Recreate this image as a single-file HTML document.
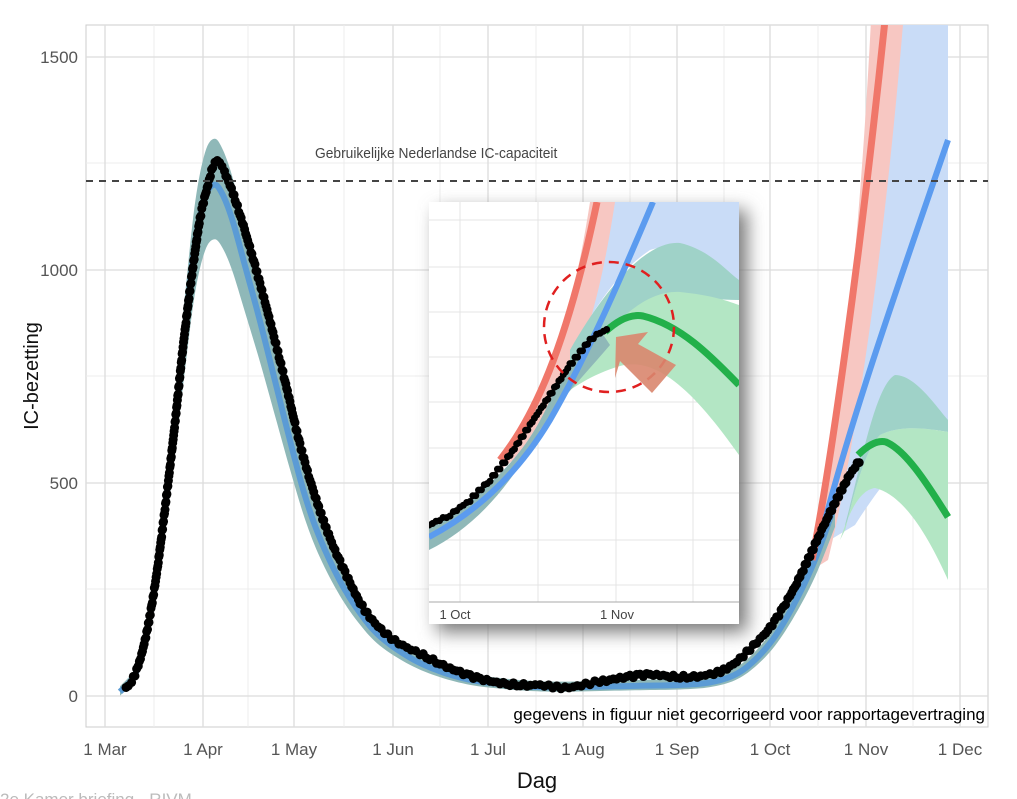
<!DOCTYPE html>
<html><head><meta charset="utf-8"><style>
html,body{margin:0;padding:0;background:#fff;width:1017px;height:799px;overflow:hidden}
svg{display:block}
text{font-family:"Liberation Sans",sans-serif}
</style></head><body>
<svg id="s" width="1017" height="799" viewBox="0 0 1017 799">
<defs>
<filter id="sh" x="-20%" y="-20%" width="140%" height="140%"><feGaussianBlur stdDeviation="9"/></filter>
<clipPath id="pc"><rect x="86" y="25" width="902" height="702"/></clipPath>
<clipPath id="ic"><rect x="429" y="202" width="310" height="400"/></clipPath>
</defs>
<rect x="86" y="25" width="902" height="702" fill="#fff" stroke="#ccc"/>
<g stroke="#ececec" stroke-width="1">
<line x1="86" x2="988" y1="163" y2="163"/><line x1="86" x2="988" y1="376" y2="376"/><line x1="86" x2="988" y1="589" y2="589"/>
<line x1="154" x2="154" y1="25" y2="727"/><line x1="248" x2="248" y1="25" y2="727"/><line x1="344" x2="344" y1="25" y2="727"/><line x1="440" x2="440" y1="25" y2="727"/><line x1="536" x2="536" y1="25" y2="727"/><line x1="630" x2="630" y1="25" y2="727"/><line x1="724" x2="724" y1="25" y2="727"/><line x1="818" x2="818" y1="25" y2="727"/><line x1="913" x2="913" y1="25" y2="727"/>
</g>
<g stroke="#dcdcdc" stroke-width="1.3">
<line x1="86" x2="988" y1="57" y2="57"/><line x1="86" x2="988" y1="270" y2="270"/><line x1="86" x2="988" y1="483" y2="483"/><line x1="86" x2="988" y1="696" y2="696"/>
<line x1="105" x2="105" y1="25" y2="727"/><line x1="203" x2="203" y1="25" y2="727"/><line x1="294" x2="294" y1="25" y2="727"/><line x1="393" x2="393" y1="25" y2="727"/><line x1="488" x2="488" y1="25" y2="727"/><line x1="583" x2="583" y1="25" y2="727"/><line x1="677" x2="677" y1="25" y2="727"/><line x1="770" x2="770" y1="25" y2="727"/><line x1="866" x2="866" y1="25" y2="727"/><line x1="960" x2="960" y1="25" y2="727"/>
</g>
<g clip-path="url(#pc)">
<path d="M830,540 C860,400 875,200 885,0 L948,0 L948,420 C920,440 890,470 855,525 Z" fill="#c9dcf7"/>
<path d="M812,570 C835,480 860,250 872,0 L905,0 C885,250 855,450 828,560 Z" fill="#f7c7c2"/>
<path d="M845,525 C860,470 875,385 895,375 C915,375 935,405 948,420 L948,432 C925,428 900,425 880,435 C865,450 855,490 845,530Z" fill="#9fd2c8"/>
<path d="M845,530 C855,490 865,450 880,435 C900,425 925,428 948,432 L948,580 C930,540 905,495 875,488 C860,490 850,510 840,540Z" fill="#b3e6c4"/>
<path id="band" fill="#8fb8b8"/>
<path id="mline" fill="none" stroke="#5b9bd5" stroke-width="6"/>
<path d="M812,560 C830,470 860,260 885,20" fill="none" stroke="#f0776a" stroke-width="7"/>
<path d="M820,540 C850,420 900,280 948,140" fill="none" stroke="#5b9bef" stroke-width="6"/>
<path d="M858,455 C868,445 878,440 886,442 C905,450 925,480 948,517" fill="none" stroke="#22b04a" stroke-width="7"/>
<g id="dots" fill="#000"></g>
</g>
<line x1="86" x2="988" y1="181" y2="181" stroke="#444" stroke-width="2" stroke-dasharray="7,6"/>
<text x="315" y="158" font-size="15" fill="#444" transform="translate(315,0) scale(0.92,1) translate(-315,0)">Gebruikelijke Nederlandse IC-capaciteit</text>
<g font-size="17" fill="#555" text-anchor="end">
<text x="78" y="63">1500</text><text x="78" y="276">1000</text><text x="78" y="489">500</text><text x="78" y="702">0</text>
</g>
<g font-size="17" fill="#555" text-anchor="middle">
<text x="105" y="755">1 Mar</text><text x="203" y="755">1 Apr</text><text x="294" y="755">1 May</text><text x="393" y="755">1 Jun</text><text x="488" y="755">1 Jul</text><text x="583" y="755">1 Aug</text><text x="677" y="755">1 Sep</text><text x="770" y="755">1 Oct</text><text x="866" y="755">1 Nov</text><text x="960" y="755">1 Dec</text>
</g>
<text x="537" y="788" font-size="22" text-anchor="middle" fill="#111">Dag</text>
<text transform="translate(38,376) rotate(-90)" font-size="20" text-anchor="middle" fill="#111">IC-bezetting</text>
<text x="985" y="720" font-size="17" text-anchor="end" fill="#000">gegevens in figuur niet gecorrigeerd voor rapportagevertraging</text>
<text x="0" y="805" font-size="17" fill="#bbb">2e Kamer briefing - RIVM</text>
<rect x="437" y="210" width="310" height="422" fill="#777" filter="url(#sh)"/>
<rect x="429" y="202" width="310" height="422" fill="#fff"/>
<g stroke="#e4e4e4">
<line x1="429" x2="739" y1="220" y2="220"/><line x1="429" x2="739" y1="267" y2="267"/><line x1="429" x2="739" y1="312" y2="312"/><line x1="429" x2="739" y1="357" y2="357"/><line x1="429" x2="739" y1="402" y2="402"/><line x1="429" x2="739" y1="448" y2="448"/><line x1="429" x2="739" y1="493" y2="493"/><line x1="429" x2="739" y1="540" y2="540"/><line x1="429" x2="739" y1="585" y2="585"/>
<line x1="460" x2="460" y1="202" y2="602"/><line x1="538" x2="538" y1="202" y2="602"/><line x1="616" x2="616" y1="202" y2="602"/><line x1="693" x2="693" y1="202" y2="602"/>
</g>
<g clip-path="url(#ic)">
<path d="M600,202 L739,202 L739,290 C700,260 680,240 650,250 C620,270 600,300 570,350 Z" fill="#c9dcf7"/>
<path d="M500,470 C540,420 570,330 590,202 L615,202 C600,300 580,370 540,440 Z" fill="#f7c7c2"/>
<path d="M570,350 C610,280 650,240 680,243 C710,250 725,270 739,280 L739,300 C710,300 690,295 660,300 C620,320 590,345 570,370 Z" fill="#9fd2c8"/>
<path d="M570,370 C610,330 640,290 680,292 C710,295 725,300 739,305 L739,455 C700,400 660,355 620,366 C600,372 585,380 570,390 Z" fill="#b3e6c4"/>
<path d="M429,528 C470,500 520,470 550,400 C565,365 580,350 600,330 L610,345 C580,380 560,400 540,430 C510,490 470,530 429,550 Z" fill="#8fb8b8"/>
<path d="M500,460 C540,410 570,330 597,202" fill="none" stroke="#f0776a" stroke-width="7"/>
<path d="M429,537 C480,510 520,470 550,420 C590,350 620,280 653,202" fill="none" stroke="#5b9bef" stroke-width="6"/>
<path d="M605,332 C620,318 632,314 643,316 C680,325 710,355 739,385" fill="none" stroke="#22b04a" stroke-width="7"/>
<g id="idots" fill="#000"></g>
</g>
<circle cx="609" cy="327" r="65" fill="none" stroke="#e02020" stroke-width="2.5" stroke-dasharray="10,7"/>
<path d="M616,337 L648,332 L638,344 L676,365 L652,393 L620,361 L615,378 Z" fill="#d9866e" opacity="0.9"/>
<line x1="429" x2="739" y1="602" y2="602" stroke="#aaa"/>
<text x="455" y="619" font-size="13" text-anchor="middle" fill="#444">1 Oct</text>
<text x="617" y="619" font-size="13" text-anchor="middle" fill="#444">1 Nov</text>
</svg>
<script>
function cr(p,steps){var o=[];for(var i=0;i<p.length-1;i++){var p0=p[Math.max(0,i-1)],p1=p[i],p2=p[i+1],p3=p[Math.min(p.length-1,i+2)];
for(var k=0;k<steps;k++){var t=k/steps,t2=t*t,t3=t2*t;var f=function(a,b,c,d){return 0.5*(2*b+(-a+c)*t+(2*a-5*b+4*c-d)*t2+(-a+3*b-3*c+d)*t3)};
o.push([f(p0[0],p1[0],p2[0],p3[0]),f(p0[1],p1[1],p2[1],p3[1])]);}}o.push(p[p.length-1]);return o;}
var Y=function(v){return 696-v*0.426};
var data=[[126,20],[135,50],[145,130],[155,260],[165,440],[175,640],[183,820],[192,990],[200,1120],[208,1200],[215,1255],[222,1240],[230,1200],[240,1130],[255,1010],[270,880],[285,740],[300,590],[315,470],[330,370],[345,290],[360,220],[375,170],[395,130],[420,100],[450,65],[480,40],[510,28],[540,25],[565,20],[590,30],[620,42],[650,50],[680,45],[710,50],[730,70],[750,110],[770,160],[790,235],[810,330],[830,430],[850,520],[862,560]];
var fit=[[120,10],[135,50],[145,130],[155,260],[165,440],[175,640],[185,860],[195,1060],[205,1170],[214,1200],[222,1180],[232,1120],[245,1010],[260,880],[275,740],[290,600],[305,470],[320,370],[340,270],[360,195],[380,140],[410,90],[440,58],[470,38],[500,28],[530,22],[560,20],[600,22],[640,24],[680,26],[710,32],[735,50],[755,85],[775,140],[795,220],[815,320],[835,450]];
var c=cr(fit,8),up=[],lo=[],ln=[];
c.forEach(function(p){var v=p[1];up.push(p[0]+","+Y(v*1.08+12));lo.unshift(p[0]+","+Y(Math.max(0,v*0.9-8)));ln.push(p[0]+","+Y(v));});
document.getElementById("band").setAttribute("d","M"+up.join(" L")+" L"+lo.join(" L")+"Z");
document.getElementById("mline").setAttribute("d","M"+ln.join(" L"));
function addDots(pts,g,r){var ns="http://www.w3.org/2000/svg",el=document.getElementById(g);
for(var i=0;i<pts.length-1;i++){var a=pts[i],b=pts[i+1],d=Math.hypot(b[0]-a[0],b[1]-a[1]),n=Math.max(1,Math.round(d/4));
for(var k=0;k<n;k++){var t=k/n,cc=document.createElementNS(ns,"circle");cc.setAttribute("cx",a[0]+(b[0]-a[0])*t);cc.setAttribute("cy",a[1]+(b[1]-a[1])*t+(Math.sin(i*7+k*3)*1.5));cc.setAttribute("r",r);el.appendChild(cc);}}}
addDots(cr(data,3).map(function(p){return [p[0],Y(p[1])]}),"dots",4.5);
addDots([[429,525],[450,515],[470,500],[490,480],[510,455],[530,425],[550,395],[570,365],[590,340],[600,333],[610,328]],"idots",3.5);
</script>
</body></html>
